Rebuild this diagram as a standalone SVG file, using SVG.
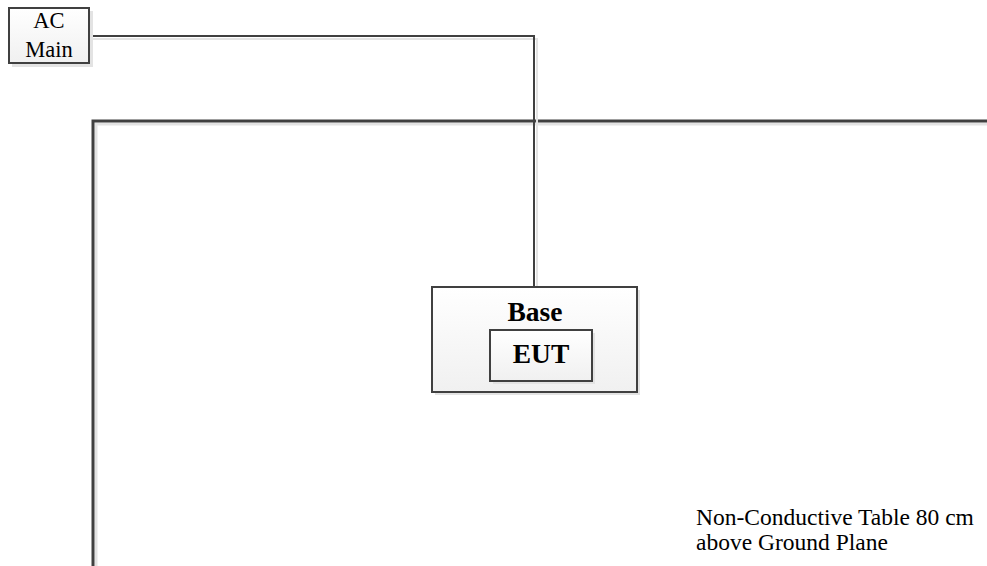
<svg xmlns="http://www.w3.org/2000/svg" width="987" height="566" viewBox="0 0 987 566">
<defs>
<linearGradient id="fill" x1="0" y1="0" x2="0" y2="1">
<stop offset="0" stop-color="#ffffff"/>
<stop offset="1" stop-color="#f0f0f0"/>
</linearGradient>
</defs>
<style>
.box{fill:url(#fill);stroke:#404040;stroke-width:2}
.shadow{fill:#e3e3e3;stroke:none}
.wire{fill:none;stroke:#404040;stroke-width:2}
.wshadow{fill:none;stroke:#e3e3e3;stroke-width:2}
.t{font-family:"Liberation Serif","Times New Roman",serif;fill:#000}
.b{font-weight:bold;font-size:27.5px}
</style>
<rect width="987" height="566" fill="#ffffff"/>
<g id="table">
<polyline points="96,566 96,124 987,124" fill="none" stroke="#e3e3e3" stroke-width="3"/>
<polyline points="93,566 93,121 987,121" fill="none" stroke="#404040" stroke-width="3"/>
<text class="t" x="696" y="525" font-size="23.5">Non-Conductive Table 80 cm</text>
<text class="t" x="696" y="550" font-size="23.5">above Ground Plane</text>
</g>
<g id="connectors">
<polyline class="wshadow" points="89,39 537,39 537,288"/>
<polyline class="wire" points="89,36 534,36 534,288"/>
</g>
<g id="ac-main">
<rect class="shadow" x="12" y="11" width="81" height="56"/>
<rect class="box" x="9" y="8" width="80" height="55"/>
<text class="t" x="49" y="28" font-size="22.5" text-anchor="middle">AC</text>
<text class="t" x="49" y="57" font-size="22.5" text-anchor="middle">Main</text>
</g>
<g id="base">
<rect class="shadow" x="435" y="290" width="205" height="105"/>
<rect class="box" x="432" y="287" width="205" height="105"/>
<text class="t b" x="535" y="321" text-anchor="middle">Base</text>
</g>
<g id="eut">
<rect class="shadow" x="493" y="333" width="102" height="51"/>
<rect class="box" x="490" y="330" width="102" height="51"/>
<text class="t b" x="541" y="363" text-anchor="middle">EUT</text>
</g>
</svg>
